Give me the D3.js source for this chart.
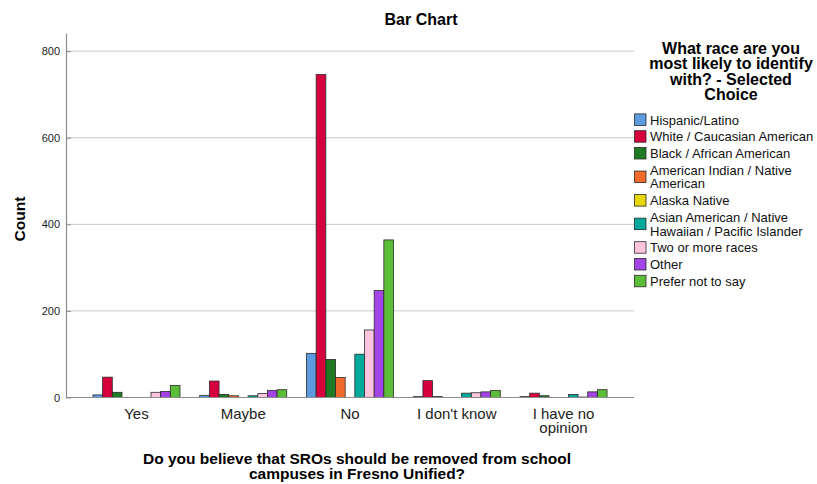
<!DOCTYPE html>
<html>
<head>
<meta charset="utf-8">
<script src="https://cdn.jsdelivr.net/npm/d3@7"></script>
<style>
  body { margin: 0; background: #fff; }
  svg { display: block; font-family: Arial, "Liberation Sans", sans-serif; }
</style>
</head>
<body>
<svg id="chart" width="817" height="484"></svg>
<script>
const categories = ["Yes", "Maybe", "No", "I don't know", "I have no opinion"];
const categoryLines = [["Yes"], ["Maybe"], ["No"], ["I don't know"], ["I have no", "opinion"]];
const seriesNames = [
  "Hispanic/Latino",
  "White / Caucasian American",
  "Black / African American",
  "American Indian / Native American",
  "Alaska Native",
  "Asian American / Native Hawaiian / Pacific Islander",
  "Two or more races",
  "Other",
  "Prefer not to say"
];
const legendLines = [
  ["Hispanic/Latino"],
  ["White / Caucasian American"],
  ["Black / African American"],
  ["American Indian / Native", "American"],
  ["Alaska Native"],
  ["Asian American / Native", "Hawaiian / Pacific Islander"],
  ["Two or more races"],
  ["Other"],
  ["Prefer not to say"]
];
const seriesColors = ["#5b9be0", "#d6003c", "#1f7a24", "#f26a2a", "#e6d60a", "#00a99a", "#ffc4dd", "#a444e6", "#5cbd38"];
// values per series, in category order
const hispanic = [6, 5, 102, 2, 2];
const white = [47, 38, 746, 39, 10];
const black = [12, 7, 88, 2, 4];
const amIndian = [0, 4, 46, 0, 0];
const alaska = [0, 0, 0, 0, 0];
const asian = [0, 4, 100, 10, 7];
const twoOrMore = [12, 9, 156, 11, 1];
const other = [14, 16, 247, 13, 13];
const preferNot = [28, 18, 364, 16, 18];
const seriesValues = [hispanic, white, black, amIndian, alaska, asian, twoOrMore, other, preferNot];
const yTicks = [0, 200, 400, 600, 800];

const svg = d3.select("#chart");
const pLeft = 66, pRight = 634, pBottom = 397.5, pTop = 33;

const x0 = d3.scaleBand().domain(categories).range([pLeft, pRight]).paddingInner(0).paddingOuter(0.16);
const x1 = d3.scaleBand().domain(seriesNames).range([0, x0.bandwidth()]).paddingInner(0).paddingOuter(1.02);
const y = d3.scaleLinear().domain([0, 842]).range([pBottom, pTop]);

// gridlines
svg.append("g").selectAll("line").data(yTicks.filter(d => d > 0)).join("line")
  .attr("x1", pLeft).attr("x2", pRight)
  .attr("y1", d => y(d)).attr("y2", d => y(d))
  .attr("stroke", "#c8c8c8").attr("stroke-width", 1);

// y axis
const yAxis = svg.append("g").attr("transform", `translate(${pLeft},0)`)
  .call(d3.axisLeft(y).tickValues(yTicks).tickSize(0).tickPadding(6));
yAxis.select(".domain").attr("stroke", "#8c8c8c").attr("stroke-width", 1.2);
yAxis.selectAll("text").attr("font-size", 11).attr("fill", "#222").attr("font-family", "Arial, 'Liberation Sans', sans-serif");
yAxis.selectAll(".tick line").remove();
yAxis.selectAll(".tick").append("line").attr("x1", 0).attr("x2", 5).attr("stroke", "#8c8c8c");

// bars
const rows = [];
categories.forEach((c, ci) => seriesNames.forEach((s, si) => {
  rows.push({ c, s, si, v: seriesValues[si][ci] });
}));
svg.append("g").selectAll("rect").data(rows.filter(d => d.v > 0)).join("rect")
  .attr("x", d => x0(d.c) + x1(d.s))
  .attr("y", d => y(d.v))
  .attr("width", x1.bandwidth())
  .attr("height", d => y(0) - y(d.v))
  .attr("fill", d => seriesColors[d.si])
  .attr("stroke", "#2a2a2a").attr("stroke-width", 0.8);

// x axis line
svg.append("line").attr("x1", pLeft).attr("x2", pRight).attr("y1", pBottom).attr("y2", pBottom)
  .attr("stroke", "#8c8c8c").attr("stroke-width", 1.2);

// x tick labels
const xl = svg.append("g");
categories.forEach((c, ci) => {
  const t = xl.append("text").attr("x", x0(c) + x0.bandwidth() / 2).attr("y", 419)
    .attr("text-anchor", "middle").attr("font-size", 15).attr("fill", "#222");
  categoryLines[ci].forEach((ln, li) => {
    t.append("tspan").attr("x", x0(c) + x0.bandwidth() / 2).attr("dy", li === 0 ? 0 : 14).text(ln);
  });
});

// title
svg.append("text").attr("x", 421).attr("y", 25).attr("text-anchor", "middle")
  .attr("font-size", 16).attr("font-weight", "bold").attr("fill", "#000").text("Bar Chart");

// y title
svg.append("text").attr("transform", "translate(25,219) rotate(-90)").attr("text-anchor", "middle")
  .attr("font-size", 15.5).attr("font-weight", "bold").attr("fill", "#000").text("Count");

// x title
const xt = svg.append("text").attr("x", 357).attr("y", 463.5).attr("text-anchor", "middle")
  .attr("font-size", 15.5).attr("font-weight", "bold").attr("fill", "#000");
xt.append("tspan").attr("x", 357).attr("dy", 0).text("Do you believe that SROs should be removed from school");
xt.append("tspan").attr("x", 357).attr("dy", 15).text("campuses in Fresno Unified?");

// legend title
const lt = svg.append("text").attr("x", 731).attr("y", 53.5).attr("text-anchor", "middle")
  .attr("font-size", 16).attr("font-weight", "bold").attr("fill", "#000");
["What race are you", "most likely to identify", "with? - Selected", "Choice"].forEach((ln, i) => {
  lt.append("tspan").attr("x", 731).attr("dy", i === 0 ? 0 : 15.6).text(ln);
});

// legend items
const lg = svg.append("g");
let cy = 111.5;
const lineH = 13.5, pad = 3.3;
seriesNames.forEach((s, si) => {
  const lines = legendLines[si];
  const h = lines.length * lineH + pad;
  const center = cy + h / 2;
  lg.append("rect").attr("x", 634.5).attr("y", center - 6).attr("width", 11.5).attr("height", 11.5)
    .attr("fill", seriesColors[si]).attr("stroke", "#2a2a2a").attr("stroke-width", 0.8);
  const t = lg.append("text").attr("font-size", 13).attr("fill", "#111");
  const firstBase = center - (lines.length - 1) * lineH / 2 + 4.6;
  lines.forEach((ln, li) => {
    t.append("tspan").attr("x", 650).attr("y", firstBase + li * lineH).text(ln);
  });
  cy += h;
});
</script>
</body>
</html>
